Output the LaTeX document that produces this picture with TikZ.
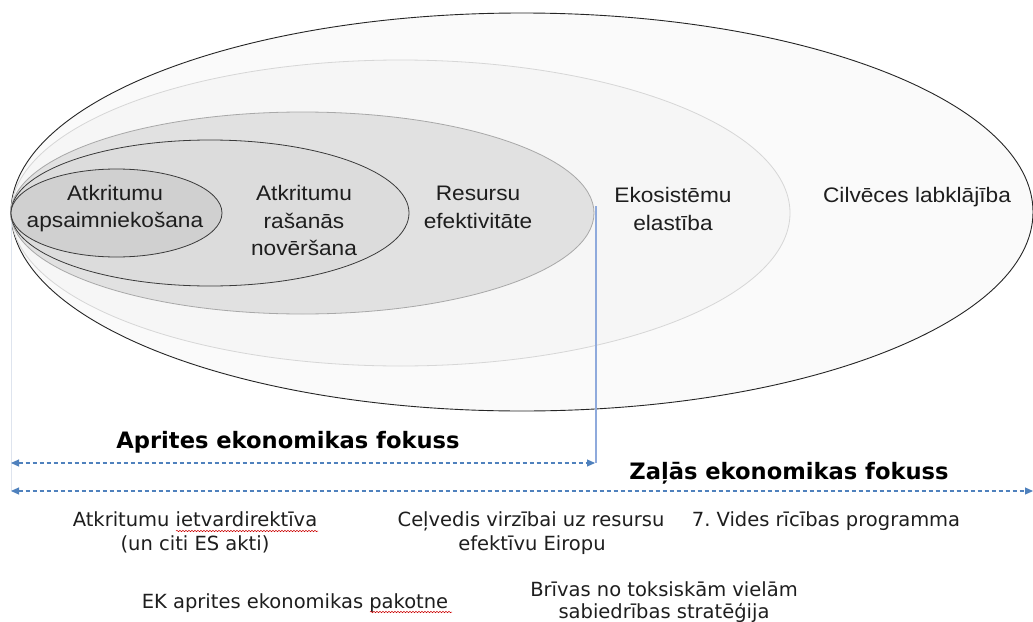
\documentclass[tikz,border=0pt]{standalone}
\usepackage{fontspec}
\usetikzlibrary{arrows.meta,decorations.pathmorphing}
\newfontfamily\ellfont[FakeStretch=1.08]{Liberation Sans}
\newfontfamily\botfont{DejaVu Sans}
\definecolor{arrowblue}{RGB}{79,129,189}
\definecolor{vlineblue}{RGB}{143,170,220}
\definecolor{faintline}{RGB}{222,228,238}
\definecolor{fillA}{RGB}{250,250,250}
\definecolor{fillB}{RGB}{246,246,246}
\definecolor{fillC}{RGB}{225,225,225}
\definecolor{fillD}{RGB}{220,220,220}
\definecolor{fillE}{RGB}{208,208,208}
\definecolor{lineB}{RGB}{214,214,214}
\definecolor{lineC}{RGB}{168,168,168}
\definecolor{lineD}{RGB}{58,58,58}
\definecolor{txtgray}{RGB}{30,30,30}
\frenchspacing
\begin{document}
\begin{tikzpicture}[x=1pt,y=-1pt,
  elltext/.style={font=\ellfont\fontsize{21}{25}\selectfont, text=txtgray, inner sep=0pt, anchor=base},
  bottext/.style={font=\botfont\fontsize{19.5}{24}\selectfont, text=txtgray, inner sep=0pt, anchor=base},
  titletext/.style={font=\botfont\bfseries\fontsize{22.6}{27}\selectfont, text=black, inner sep=0pt, anchor=base},
  dasharrow/.style={draw=arrowblue, line width=1.1pt, dash pattern=on 4pt off 3pt,
    {Triangle[length=8pt,width=7pt]}-{Triangle[length=8pt,width=7pt]}},
  squig/.style={draw=red!80!black, line width=0.5pt, decorate,
    decoration={snake, segment length=3pt, amplitude=0.7pt}}
]
\fill[white] (0,0) rectangle (1033,621);
\useasboundingbox (0,0) rectangle (1033,621);

% ellipses
\draw[draw=black!85, line width=0.9pt, fill=fillA] (522,212) ellipse [x radius=511pt, y radius=199pt];
\draw[draw=lineB, line width=0.8pt, fill=fillB] (400.5,213) ellipse [x radius=389.5pt, y radius=153pt];
\draw[draw=lineC, line width=0.8pt, fill=fillC] (302.5,213) ellipse [x radius=291.5pt, y radius=101pt];
\draw[draw=lineD, line width=0.8pt, fill=fillD] (210,213) ellipse [x radius=199pt, y radius=73pt];
\draw[draw=lineD, line width=0.8pt, fill=fillE] (116.5,213) ellipse [x radius=105.5pt, y radius=44pt];

% vertical guide lines
\coordinate (vtop) at (596,206);
\coordinate (vbot) at (596,463);
\draw[vlineblue, line width=1.1pt] (vtop) -- (vbot);
\coordinate (ftop) at (11,222);
\coordinate (fbot) at (11,491);
\draw[faintline, line width=0.8pt] (ftop) -- (fbot);

% ellipse labels
\node[elltext] (am1) at (115,200) {Atkritumu};
\node[elltext] (am2) at (115,227) {apsaimniekošana};
\node[elltext] (rn1) at (304,200) {Atkritumu};
\node[elltext] (rn2) at (304,228) {rašanās};
\node[elltext] (rn3) at (304,255) {novēršana};
\node[elltext] (re1) at (478,200) {Resursu};
\node[elltext] (re2) at (478,228) {efektivitāte};
\node[elltext] (ek1) at (673,202) {Ekosistēmu};
\node[elltext] (ek2) at (673,230) {elastība};
\node[elltext] (cl1) at (917,202) {Cilvēces labklājība};

% focus arrows
\node[titletext] (apf) at (288,448) {Aprites ekonomikas fokuss};
\coordinate (a1l) at (11,463);
\coordinate (a1r) at (595,463);
\draw[dasharrow] (a1l) -- (a1r);
\node[titletext] (zef) at (789,479) {Zaļās ekonomikas fokuss};
\coordinate (a2l) at (11,491);
\coordinate (a2r) at (1033,491);
\draw[dasharrow] (a2l) -- (a2r);

% bottom texts
\node[bottext] (b11) at (195,526) {Atkritumu ietvardirektīva};
\node[bottext] (b12) at (195,550) {(un citi ES akti)};
\node[bottext] (b21) at (531,526) {Ceļvedis virzībai uz resursu};
\node[bottext] (b22) at (532,550) {efektīvu Eiropu};
\node[bottext] (b31) at (826,526) {7. Vides rīcības programma};
\node[bottext] (b41) at (295,608) {EK aprites ekonomikas pakotne};
\node[bottext] (b51) at (664,596) {Brīvas no toksiskām vielām};
\node[bottext] (b52) at (664,618) {sabiedrības stratēģija};

% spell-check squiggles
\coordinate (s1a) at (176,531);
\coordinate (s1b) at (318,531);
\draw[squig] (s1a) -- (s1b);
\coordinate (s2a) at (370,612);
\coordinate (s2b) at (452,612);
\draw[squig] (s2a) -- (s2b);
\end{tikzpicture}
\end{document}
